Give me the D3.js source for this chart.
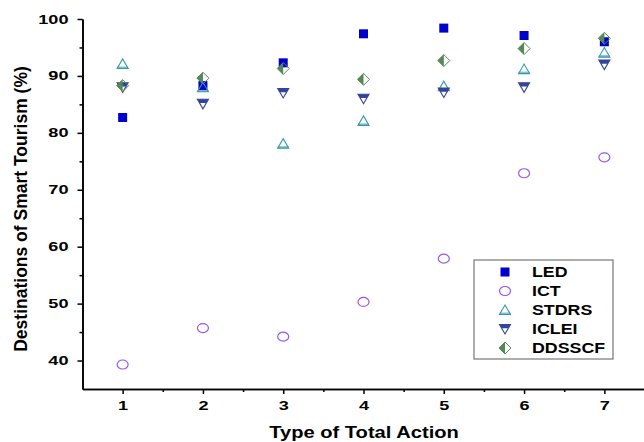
<!DOCTYPE html>
<html><head><meta charset="utf-8">
<script src="https://cdn.jsdelivr.net/npm/d3@7"></script>
<style>
body{margin:0;background:#fff;}
svg{display:block;font-family:"Liberation Sans",Arial,sans-serif;}
</style></head>
<body>
<svg id="chart" width="644" height="442"></svg>
<script>
const categories = [1,2,3,4,5,6,7];
const seriesNames = ["LED","ICT","STDRS","ICLEI","DDSSCF"];
const LED    = [82.7, 88.3, 92.3, 97.4, 98.4, 97.1, 96.0];
const ICT    = [39.3, 45.7, 44.2, 50.3, 57.9, 72.9, 75.7];
const STDRS  = [92.1, 88.0, 78.1, 82.1, 88.2, 91.2, 94.1];
const ICLEI  = [88.0, 85.1, 87.0, 86.0, 87.1, 88.0, 92.0];
const DDSSCF = [88.3, 89.6, 91.3, 89.4, 92.7, 94.8, 96.6];
const yTicks = [40,50,60,70,80,90,100];
const xTicks = [1,2,3,4,5,6,7];

const svg = d3.select("#chart");
const x = d3.scaleLinear().domain([0.5,7.5]).range([82.5,644.5]);
const y = d3.scaleLinear().domain([35,100]).range([389,19]);
const TS = 1.45; // horizontal stretch of tick labels

// axes
const gx = svg.append("g").attr("transform","translate(0,389)");
gx.call(d3.axisBottom(x).tickValues(xTicks).tickFormat(d3.format("d")).tickSize(5).tickSizeOuter(0));
gx.append("g").call(d3.axisBottom(x).tickValues(d3.range(1.5,7.5,1)).tickFormat("").tickSize(3).tickSizeOuter(0));
const gy = svg.append("g").attr("transform","translate(82.5,0)");
gy.call(d3.axisLeft(y).tickValues(yTicks).tickFormat(d3.format("d")).tickSize(5).tickSizeOuter(0));
gy.append("g").call(d3.axisLeft(y).tickValues(d3.range(45,100,10)).tickFormat("").tickSize(3).tickSizeOuter(0));
svg.selectAll(".tick line").attr("stroke","#000").attr("stroke-width",1.5);
svg.selectAll("path.domain").attr("stroke","#000").attr("stroke-width",1.6);
gx.selectAll(".tick text").attr("font-size",12.5).attr("font-weight","bold").attr("fill","#000")
  .attr("y",0).attr("dy",0).attr("transform",`translate(0,21) scale(${TS},1)`);
gy.selectAll(".tick text").attr("font-size",12.5).attr("font-weight","bold").attr("fill","#000")
  .attr("x",0).attr("transform",`translate(-14,0) scale(${TS},1)`);

// titles
svg.append("text").attr("transform","translate(364,438) scale(1.22,1)").attr("text-anchor","middle")
  .attr("font-size",16.5).attr("font-weight","bold").text("Type of Total Action");
svg.append("text").attr("transform","translate(27,209) rotate(-90)").attr("text-anchor","middle")
  .attr("font-size",17.5).attr("font-weight","bold").text("Destinations of Smart Tourism (%)");

// marker drawers
const markers = {
  LED: (g)=>{ g.append("rect").attr("x",-4.5).attr("y",-4.5).attr("width",9).attr("height",9).attr("fill","#0000cc"); },
  ICT: (g)=>{ g.append("ellipse").attr("rx",5.5).attr("ry",4.5).attr("fill","none").attr("stroke","#9955ee").attr("stroke-width",1.2); },
  STDRS: (g)=>{
    g.append("path").attr("d","M-5.5,4.5 L5.5,4.5 L0,-5 Z").attr("fill","none").attr("stroke","#3399aa").attr("stroke-width",1.1);
    g.append("rect").attr("x",-5.5).attr("y",2.5).attr("width",11).attr("height",2).attr("fill","#3399aa").attr("opacity",0.6);
  },
  ICLEI: (g)=>{
    g.append("path").attr("d","M-5.5,-4.5 L5.5,-4.5 L3.3,-0.7 L-3.3,-0.7 Z").attr("fill","#334499");
    g.append("path").attr("d","M-5.5,-4.5 L5.5,-4.5 L0,5 Z").attr("fill","none").attr("stroke","#334499").attr("stroke-width",1.1);
  },
  DDSSCF: (g)=>{
    g.append("path").attr("d","M0,-6 L-6,0 L0,6 Z").attr("fill","#558855");
    g.append("path").attr("d","M0,-6 L6,0 L0,6 L-6,0 Z").attr("fill","none").attr("stroke","#558855").attr("stroke-width",1);
  }
};
const dataMap = {LED, ICT, STDRS, ICLEI, DDSSCF};

seriesNames.forEach(name=>{
  const g = svg.append("g").attr("class","series-"+name);
  g.selectAll("g.pt").data(dataMap[name].map((v,i)=>({x:categories[i],v})))
    .join("g").attr("class","pt")
    .attr("transform",d=>`translate(${x(d.x)},${y(d.v)})`)
    .each(function(){ markers[name](d3.select(this)); });
});

// legend
const lg = svg.append("g");
lg.append("rect").attr("x",474).attr("y",260).attr("width",139).attr("height",99)
  .attr("fill","#fff").attr("stroke","#777").attr("stroke-width",1.2);
seriesNames.forEach((name,i)=>{
  const yy = 272 + i*19;
  const m = lg.append("g").attr("transform",`translate(505,${yy})`);
  markers[name](m);
  lg.append("text").attr("transform",`translate(532,${yy}) scale(1.27,1)`).attr("dy","0.36em")
    .attr("font-size",14).attr("font-weight","bold").text(name);
});
</script>
</body></html>
